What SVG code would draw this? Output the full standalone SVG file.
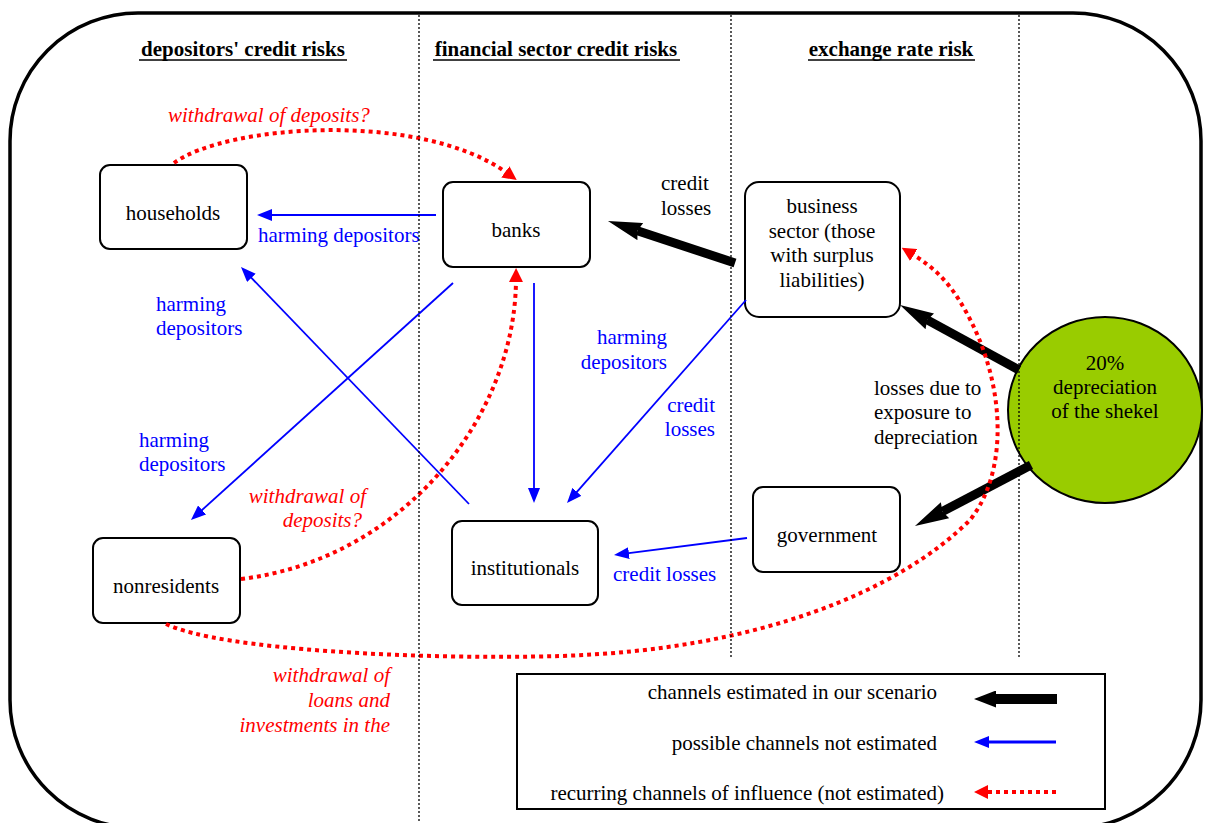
<svg xmlns="http://www.w3.org/2000/svg" width="1205" height="823" viewBox="0 0 1205 823">
<style>
text{font-family:"Liberation Serif","Times New Roman",serif;font-size:21px;fill:#000}
.hd{font-weight:bold}
.bl{fill:#0000ff}
.rd{fill:#ff0000;font-style:italic}
.mid{text-anchor:middle}
.end{text-anchor:end}
.box{fill:#ffffff;stroke:#000;stroke-width:2}
.div{stroke:#000;stroke-width:1.3;stroke-dasharray:2 2;fill:none}
.blk{stroke:#000;stroke-width:9;fill:none}
.blu{stroke:#0000ff;stroke-width:1.8;fill:none}
.red{stroke:#ff0000;stroke-width:4;stroke-dasharray:4 4;fill:none}
</style>
<defs>
<marker id="mBlk" markerUnits="userSpaceOnUse" markerWidth="34" markerHeight="18" refX="3" refY="9" orient="auto" viewBox="0 0 34 18"><path d="M0,0 L34,9 L0,18 L3,9 z" fill="#000"/></marker>
<marker id="mBlkL" markerUnits="userSpaceOnUse" markerWidth="22" markerHeight="17" refX="1" refY="8.5" orient="auto" viewBox="0 0 22 17"><path d="M0,0 L22,8.5 L0,17 z" fill="#000"/></marker>
<marker id="mBlu" markerUnits="userSpaceOnUse" markerWidth="15" markerHeight="12" refX="2" refY="6" orient="auto" viewBox="0 0 15 12"><path d="M0,0 L15,6 L0,12 z" fill="#0000ff"/></marker>
<marker id="mRed" markerUnits="userSpaceOnUse" markerWidth="14" markerHeight="14" refX="2" refY="7" orient="auto" viewBox="0 0 14 14"><path d="M0,0 L14,7 L0,14 z" fill="#ff0000"/></marker>
</defs>
<rect id="frame" x="10" y="13" width="1191" height="815" rx="128" ry="128" fill="#fff" stroke="#000" stroke-width="3.5"/>

<g id="headers">
<text class="hd mid" x="243" y="56">depositors' credit risks</text>
<line x1="139" y1="60" x2="347" y2="60" stroke="#000" stroke-width="1.6"/>
<text class="hd mid" x="556" y="56">financial sector credit risks</text>
<line x1="433" y1="60" x2="680" y2="60" stroke="#000" stroke-width="1.6"/>
<text class="hd mid" x="891" y="56">exchange rate risk</text>
<line x1="808" y1="60" x2="975" y2="60" stroke="#000" stroke-width="1.6"/>
</g>

<g id="shekel">
<ellipse cx="1105" cy="410" rx="97" ry="93" fill="#99cc00" stroke="#000" stroke-width="2"/>
<text class="mid" x="1105" y="370">20%</text>
<text class="mid" x="1105" y="394">depreciation</text>
<text class="mid" x="1105" y="418">of the shekel</text>
</g>

<g id="households">
<rect class="box" x="100" y="165" width="147" height="84" rx="10"/>
<text class="mid" x="173" y="220">households</text>
</g>
<g id="banks">
<rect class="box" x="443" y="182" width="147" height="85" rx="10"/>
<text class="mid" x="516" y="237">banks</text>
</g>
<g id="business">
<rect class="box" x="745" y="182" width="155" height="135" rx="14"/>
<text class="mid" x="822" y="213">business</text>
<text class="mid" x="822" y="238">sector (those</text>
<text class="mid" x="822" y="262">with surplus</text>
<text class="mid" x="822" y="287">liabilities)</text>
</g>
<g id="government">
<rect class="box" x="753" y="487" width="147" height="85" rx="10"/>
<text class="mid" x="827" y="542">government</text>
</g>
<g id="institutionals">
<rect class="box" x="452" y="521" width="146" height="84" rx="10"/>
<text class="mid" x="525" y="575">institutionals</text>
</g>
<g id="nonresidents">
<rect class="box" x="93" y="538" width="147" height="85" rx="10"/>
<text class="mid" x="166" y="593">nonresidents</text>
</g>

<g id="connectors">
<line class="blk" x1="735" y1="263" x2="637.4" y2="230.7" marker-end="url(#mBlk)"/>
<line class="blk" x1="1019" y1="370" x2="927.2" y2="319.9" marker-end="url(#mBlk)"/>
<line class="blk" x1="1031" y1="465" x2="942.4" y2="511.6" marker-end="url(#mBlk)"/>

<line class="blu" x1="436" y1="215" x2="270" y2="215" marker-end="url(#mBlu)"/>
<line class="blu" x1="469" y1="504" x2="250" y2="276.4" marker-end="url(#mBlu)"/>
<line class="blu" x1="453" y1="283" x2="200.6" y2="511.3" marker-end="url(#mBlu)"/>
<line class="blu" x1="534" y1="283" x2="534" y2="490" marker-end="url(#mBlu)"/>
<line class="blu" x1="746" y1="300" x2="575.6" y2="493.3" marker-end="url(#mBlu)"/>
<line class="blu" x1="747" y1="538" x2="626.9" y2="553.4" marker-end="url(#mBlu)"/>

<path class="red" d="M174,163 C225,125 420,110 507,173" marker-end="url(#mRed)"/>
<path class="red" d="M241,579 C400,560 515,420 516,280" marker-end="url(#mRed)"/>
<path class="red" d="M166,624 C220,650 420,660 560,656 C760,650 900,590 970,520 C1010,470 1005,380 965,310 C950,283 935,268 912,254" marker-end="url(#mRed)"/>
</g>

<g id="labels">
<text x="661" y="190">credit</text>
<text x="661" y="215">losses</text>
<text x="874" y="395">losses due to</text>
<text x="874" y="419">exposure to</text>
<text x="874" y="444">depreciation</text>

<text class="bl" x="258" y="242">harming depositors</text>
<text class="bl" x="156" y="311">harming</text>
<text class="bl" x="156" y="335">depositors</text>
<text class="bl" x="139" y="447">harming</text>
<text class="bl" x="139" y="471">depositors</text>
<text class="bl end" x="667" y="344">harming</text>
<text class="bl end" x="667" y="369">depositors</text>
<text class="bl end" x="715" y="412">credit</text>
<text class="bl end" x="715" y="436">losses</text>
<text class="bl" x="613" y="581">credit losses</text>

<text class="rd" x="168" y="122">withdrawal of deposits?</text>
<text class="rd end" x="366" y="503">withdrawal of</text>
<text class="rd end" x="362" y="527">deposits?</text>
<text class="rd end" x="390" y="682">withdrawal of</text>
<text class="rd end" x="390" y="707">loans and</text>
<text class="rd end" x="390" y="732">investments in the</text>
</g>

<g id="dividers">
<line class="div" x1="419" y1="15" x2="419" y2="823"/>
<line class="div" x1="731" y1="15" x2="731" y2="657"/>
<line class="div" x1="1019" y1="15" x2="1019" y2="657"/>
</g>

<g id="legend">
<rect x="517" y="674" width="588" height="135" fill="#fff" stroke="#000" stroke-width="2"/>
<text class="end" x="937" y="699">channels estimated in our scenario</text>
<text class="end" x="937" y="750">possible channels not estimated</text>
<text class="end" x="944" y="800">recurring channels of influence (not estimated)</text>
<line x1="1057" y1="699" x2="995" y2="699" stroke="#000" stroke-width="10" marker-end="url(#mBlkL)"/>
<line x1="1056" y1="742" x2="987" y2="742" stroke="#0000ff" stroke-width="3" marker-end="url(#mBlu)"/>
<line x1="1056" y1="792" x2="986" y2="792" stroke="#ff0000" stroke-width="4" stroke-dasharray="4 4" marker-end="url(#mRed)"/>
</g>
</svg>
